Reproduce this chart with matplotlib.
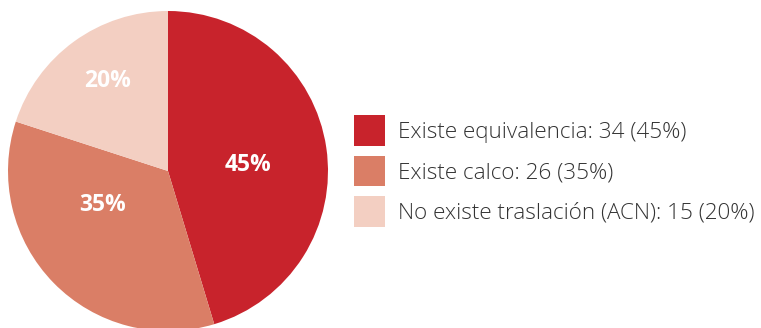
import numpy as np
import matplotlib
matplotlib.use("Agg")
import matplotlib.pyplot as plt

# data
categories = ["Existe equivalencia", "Existe calco", "No existe traslación (ACN)"]
counts = [34, 26, 15]
percents = [45, 35, 20]
colors = ["#C8232C", "#DA7E66", "#F3CFC2"]

# label placement tweaks (fraction of radius, degrees)
label_dist = [0.50, 0.46, 0.68]
label_turn = [-4, -17, -2]

plt.rcParams["font.family"] = ["Open Sans", "DejaVu Sans"]

fig = plt.figure(figsize=(7.61, 3.28), dpi=100)
ax = fig.add_axes([8 / 761, -3 / 328, 320 / 761, 320 / 328])

wedges, _ = ax.pie(counts, colors=colors, startangle=90, counterclock=False,
                   radius=1.0, wedgeprops=dict(linewidth=0))
ax.set_xlim(-1, 1)
ax.set_ylim(-1, 1)
ax.set_aspect("equal")

for w, p, d, t in zip(wedges, percents, label_dist, label_turn):
    ang = np.deg2rad((w.theta1 + w.theta2) / 2 + t)
    ax.text(d * np.cos(ang), d * np.sin(ang), f"{p}%", color="white",
            fontsize=16.5, fontweight="bold", ha="center", va="center")

labels = [f"{c}: {n} ({p}%)" for c, n, p in zip(categories, counts, percents)]
leg = fig.legend(wedges, labels, loc="center left",
                 bbox_to_anchor=(354 / 761, 1 - 171 / 328),
                 frameon=False, fontsize=16.2, handlelength=1.36, handleheight=1.72,
                 handletextpad=0.6, labelspacing=0.44, borderpad=0, borderaxespad=0)
for txt in leg.get_texts():
    txt.set_color("#333333")
    txt.set_fontweight("light")

fig.savefig("out.png", dpi=100)
